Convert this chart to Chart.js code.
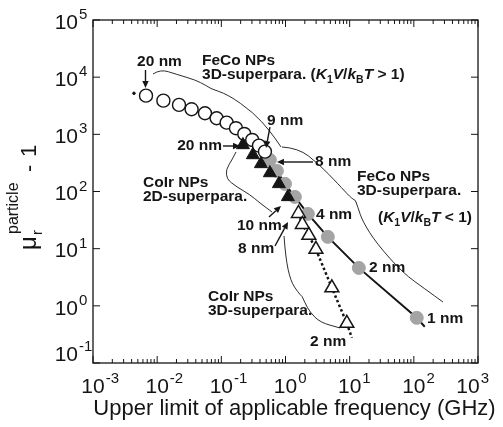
<!DOCTYPE html>
<html>
<head>
<meta charset="utf-8">
<script src="https://cdn.jsdelivr.net/npm/chart.js@4.4.1/dist/chart.umd.min.js"></script>
<style>
  html, body { margin: 0; padding: 0; background: #fff; }
  canvas { display: block; }
</style>
</head>
<body>
<canvas id="chart" width="503" height="427"></canvas>
<script>
// FeCo NPs, 3D-superpara. (K1V/kBT > 1): open circles, 20 nm -> 9 nm
const fecoBlockedFreq = [0.0067, 0.0125, 0.0219, 0.0344, 0.0556, 0.0845, 0.121, 0.169, 0.228, 0.303, 0.386, 0.478];
const fecoBlockedMu = [4750, 3880, 3270, 2750, 2340, 1910, 1600, 1280, 1016, 798, 635, 499];
const fecoLeadDot = [0.00435, 5220];

// CoIr NPs, 2D-superpara.: filled triangles, 20 nm -> 10 nm
const coir2dFreq = [0.217, 0.310, 0.414, 0.571, 0.789, 1.09];
const coir2dMu = [653, 436, 304, 211, 136, 80.5];

// FeCo NPs, 3D-superpara. (K1V/kBT < 1): grey circles, 8 nm -> 1 nm, solid line
const fecoFreeFreq = [0.571, 0.734, 0.98, 1.40, 2.23, 4.57, 13.9, 111];
const fecoFreeMu = [357, 229, 136, 80.5, 40.6, 16.1, 4.61, 0.617];
const fecoFreeTail = [148, 0.43];

// CoIr NPs, 3D-superpara.: open triangles, 8 nm -> 2 nm, dotted line
const coir3dFreq = [1.59, 1.83, 2.31, 2.98, 5.28, 9.04];
const coir3dMu = [41.4, 26.6, 17.1, 9.72, 2.07, 0.494];
const coir3dTail = [10.8, 0.276];

// axis decades
const xTickExps = [-3, -2, -1, 0, 1, 2, 3];
const yTickExps = [-1, 0, 1, 2, 3, 4, 5];

// annotations, placed in log10 data units [log x, log y]
const noteLabels = [
    { text: '20 nm', at: [-1.964, 4.265], align: 'center' },
    { text: 'FeCo NPs', at: [-1.301, 4.283] },
    { rich: [['3D-superpara. (', 'n'], ['K', 'i'], ['1', 's'], ['V', 'i'], ['/', 'n'], ['k', 'i'], ['B', 's'], ['T', 'i'], [' > 1)', 'n']], at: [-1.301, 4.038] },
    { text: '9 nm', at: [-0.288, 3.233] },
    { text: '20 nm', at: [-0.990, 2.796], align: 'right' },
    { text: '8 nm', at: [0.460, 2.516] },
    { text: 'CoIr NPs', at: [-2.221, 2.149] },
    { text: '2D-superpara.', at: [-2.221, 1.904] },
    { text: '10 nm', at: [-0.756, 1.397] },
    { text: '8 nm', at: [-0.740, 0.994] },
    { text: '4 nm', at: [0.475, 1.589] },
    { text: 'FeCo NPs', at: [1.114, 2.254] },
    { text: '3D-superpara.', at: [1.114, 2.009] },
    { rich: [['(', 'n'], ['K', 'i'], ['1', 's'], ['V', 'i'], ['/', 'n'], ['k', 'i'], ['B', 's'], ['T', 'i'], [' < 1)', 'n']], at: [1.441, 1.537] },
    { text: '2 nm', at: [1.301, 0.662] },
    { text: '1 nm', at: [2.205, -0.230] },
    { text: 'CoIr NPs', at: [-1.208, 0.155] },
    { text: '3D-superpara.', at: [-1.208, -0.090] },
    { text: '2 nm', at: [0.382, -0.633] }
];

const noteArrows = [
    [[-2.182, 4.125], [-2.182, 3.811]],
    [[-0.242, 3.128], [-0.304, 2.761]],
    [[-0.974, 2.796], [-0.709, 2.796]],
    [[0.428, 2.516], [-0.133, 2.516]],
    [[-0.257, 1.554], [-0.070, 1.747]],
    [[-0.164, 1.047], [0.039, 1.467]]
];

// each brace: two halves meeting at the tip
const noteBraces = [
    [[[-2.065, 4.055], [-1.950, 4.140], [-1.700, 4.050], [-1.400, 3.950], [-1.250, 3.860]],
     [[-1.250, 3.860], [-1.180, 3.800], [-0.900, 3.700], [-0.500, 3.380], [-0.242, 3.058], [-0.070, 2.779]]],
    [[[-0.771, 2.691], [-0.830, 2.560], [-0.930, 2.380], [-0.910, 2.220], [-0.840, 2.150]],
     [[-0.840, 2.150], [-0.760, 2.080], [-0.560, 1.950], [-0.400, 1.800], [-0.211, 1.642]]],
    [[[-0.055, 2.779], [0.200, 2.760], [0.520, 2.480], [0.830, 2.120], [1.010, 1.900], [1.090, 1.840]],
     [[1.090, 1.840], [1.130, 1.720], [1.200, 1.480], [1.420, 1.090], [1.830, 0.575], [2.180, 0.290], [2.454, 0.067]]],
    [[[-0.023, 1.222], [0.000, 0.850], [0.080, 0.430], [0.200, 0.230], [0.260, 0.160]],
     [[0.260, 0.160], [0.300, 0.060], [0.380, -0.110], [0.540, -0.290], [0.849, -0.387]]]
];

const ink = '#151515';
const FONT = '"Liberation Sans", Arial, sans-serif';

const toPoints = (xs, ys) => xs.map((x, i) => ({ x: x, y: ys[i] }));

const drawRich = (ctx, x, y, pieces, size) => {
    let cx = x;
    pieces.forEach(([txt, kind]) => {
        const sub = kind === 's';
        const fs = sub ? size * 0.68 : size;
        ctx.font = `${kind === 'i' ? 'italic ' : ''}bold ${fs}px ${FONT}`;
        ctx.fillText(txt, cx, sub ? y + size * 0.32 : y);
        cx += ctx.measureText(txt).width;
    });
};

const smoothPath = (ctx, pts) => {
    ctx.beginPath();
    ctx.moveTo(pts[0][0], pts[0][1]);
    for (let i = 1; i < pts.length - 1; i++) {
        const mx = (pts[i][0] + pts[i + 1][0]) / 2;
        const my = (pts[i][1] + pts[i + 1][1]) / 2;
        ctx.quadraticCurveTo(pts[i][0], pts[i][1], mx, my);
    }
    const last = pts[pts.length - 1];
    ctx.lineTo(last[0], last[1]);
    ctx.stroke();
};

const framePlugin = {
    id: 'frame',
    afterDraw(chart) {
        const { ctx, chartArea: a, scales } = chart;
        const px = (lx, ly) => [scales.x.getPixelForValue(Math.pow(10, lx)), scales.y.getPixelForValue(Math.pow(10, ly))];
        ctx.save();
        ctx.strokeStyle = ink;
        ctx.fillStyle = ink;

        // frame
        ctx.lineWidth = 1.3;
        ctx.strokeRect(a.left, a.top, a.right - a.left, a.bottom - a.top);

        // x ticks, top and bottom, pointing inward
        ctx.lineWidth = 1;
        xTickExps.forEach((e, i) => {
            const steps = i < xTickExps.length - 1 ? [1, 2, 3, 4, 5, 6, 7, 8, 9] : [1];
            steps.forEach(k => {
                const x = scales.x.getPixelForValue(k * Math.pow(10, e));
                const len = k === 1 ? 7 : 4;
                ctx.beginPath();
                ctx.moveTo(x, a.bottom); ctx.lineTo(x, a.bottom - len);
                ctx.moveTo(x, a.top); ctx.lineTo(x, a.top + len);
                ctx.stroke();
            });
        });
        // y ticks, left and right
        yTickExps.forEach(e => {
            const y = scales.y.getPixelForValue(Math.pow(10, e));
            ctx.beginPath();
            ctx.moveTo(a.left, y); ctx.lineTo(a.left + 7, y);
            ctx.moveTo(a.right, y); ctx.lineTo(a.right - 7, y);
            ctx.stroke();
        });

        // x tick labels
        ctx.textBaseline = 'middle';
        xTickExps.forEach((e, i) => {
            let x = scales.x.getPixelForValue(Math.pow(10, e));
            if (i === xTickExps.length - 1) x -= 10;
            ctx.font = `21px ${FONT}`;
            ctx.textAlign = 'center';
            ctx.fillText('10', x, a.bottom + 24);
            const w = ctx.measureText('10').width;
            ctx.font = `15px ${FONT}`;
            ctx.textAlign = 'left';
            ctx.fillText(String(e), x + w / 2 + 1, a.bottom + 16);
        });
        // y tick labels
        yTickExps.forEach((e, i) => {
            const y = scales.y.getPixelForValue(Math.pow(10, e)) + (i === 0 ? -8 : 3);
            ctx.font = `21px ${FONT}`;
            ctx.textAlign = 'right';
            ctx.fillText('10', a.left - 15, y);
            ctx.font = `15px ${FONT}`;
            ctx.textAlign = 'left';
            ctx.fillText(String(e), a.left - 14, y - 8);
        });

        // x axis title
        ctx.font = `22px ${FONT}`;
        ctx.textAlign = 'center';
        ctx.fillText('Upper limit of applicable frequency (GHz)', (a.left + a.right) / 2 + 9, a.bottom + 46);

        // y axis title, rotated
        ctx.save();
        ctx.translate(36, 250);
        ctx.rotate(-Math.PI / 2);
        ctx.textAlign = 'left';
        ctx.textBaseline = 'alphabetic';
        ctx.font = `24px ${FONT}`;
        ctx.fillText('\u03bc', 0, 0);
        ctx.font = `15px ${FONT}`;
        ctx.fillText('r', 15, 6);
        ctx.font = `16px ${FONT}`;
        ctx.fillText('particle', 16, -18);
        ctx.font = `22px ${FONT}`;
        ctx.fillText('-', 78, 0);
        ctx.fillText('1', 93, 0);
        ctx.restore();

        // braces
        ctx.lineWidth = 0.9;
        noteBraces.forEach(b => b.forEach(half => smoothPath(ctx, half.map(p => px(p[0], p[1])))));

        // arrows
        ctx.lineWidth = 1.4;
        noteArrows.forEach(([from, to]) => {
            const [x0, y0] = px(from[0], from[1]);
            const [x1, y1] = px(to[0], to[1]);
            const ang = Math.atan2(y1 - y0, x1 - x0);
            const hl = 7, hw = 3.2;
            const bx = x1 - Math.cos(ang) * hl, by = y1 - Math.sin(ang) * hl;
            ctx.beginPath();
            ctx.moveTo(x0, y0); ctx.lineTo(bx, by);
            ctx.stroke();
            ctx.beginPath();
            ctx.moveTo(x1, y1);
            ctx.lineTo(bx - Math.sin(ang) * hw, by + Math.cos(ang) * hw);
            ctx.lineTo(bx + Math.sin(ang) * hw, by - Math.cos(ang) * hw);
            ctx.closePath();
            ctx.fill();
        });

        // labels
        ctx.textBaseline = 'middle';
        noteLabels.forEach(l => {
            const [x, y] = px(l.at[0], l.at[1]);
            if (l.rich) {
                ctx.textAlign = 'left';
                drawRich(ctx, x, y, l.rich, 15.5);
            } else {
                ctx.font = `bold 15.5px ${FONT}`;
                ctx.textAlign = l.align || 'left';
                ctx.fillText(l.text, x, y);
            }
        });
        ctx.restore();
    }
};

new Chart(document.getElementById('chart'), {
    type: 'scatter',
    data: {
        datasets: [
            {
                label: 'CoIr 2D-superpara.',
                data: toPoints(coir2dFreq, coir2dMu),
                pointStyle: 'triangle',
                pointRadius: 7.5,
                backgroundColor: ink,
                borderColor: ink,
                borderWidth: 1,
                order: 1
            },
            {
                label: 'CoIr 3D-superpara.',
                data: toPoints(coir3dFreq.concat([coir3dTail[0]]), coir3dMu.concat([coir3dTail[1]])),
                showLine: true,
                borderColor: ink,
                borderWidth: 2.5,
                borderDash: [2.5, 2.5],
                pointStyle: 'triangle',
                pointRadius: coir3dFreq.map(() => 8).concat([0]),
                pointBackgroundColor: '#fff',
                pointBorderColor: ink,
                pointBorderWidth: 1.5,
                order: 2
            },
            {
                label: 'FeCo 3D-superpara. K1V/kBT > 1',
                data: toPoints(fecoBlockedFreq, fecoBlockedMu),
                pointStyle: 'circle',
                pointRadius: 6.5,
                backgroundColor: '#fff',
                borderColor: ink,
                borderWidth: 1.4,
                order: 3
            },
            {
                label: 'lead dot',
                data: [{ x: fecoLeadDot[0], y: fecoLeadDot[1] }],
                pointRadius: 1.3,
                backgroundColor: ink,
                borderColor: ink,
                order: 3
            },
            {
                label: 'FeCo 3D-superpara. K1V/kBT < 1',
                data: toPoints(fecoFreeFreq.concat([fecoFreeTail[0]]), fecoFreeMu.concat([fecoFreeTail[1]])),
                showLine: true,
                borderColor: ink,
                borderWidth: 2,
                pointStyle: 'circle',
                pointRadius: fecoFreeFreq.map(() => 6.5).concat([0]),
                pointBackgroundColor: '#a4a4a4',
                pointBorderColor: '#a4a4a4',
                pointBorderWidth: 1,
                order: 4
            }
        ]
    },
    options: {
        responsive: false,
        devicePixelRatio: 1,
        animation: false,
        layout: { padding: { left: 93, right: 25, top: 20, bottom: 64 } },
        plugins: { legend: { display: false }, tooltip: { enabled: false } },
        scales: {
            x: { type: 'logarithmic', min: 1e-3, max: 1e3, display: false },
            y: { type: 'logarithmic', min: 1e-1, max: 1e5, display: false }
        }
    },
    plugins: [framePlugin]
});
</script>
</body>
</html>
